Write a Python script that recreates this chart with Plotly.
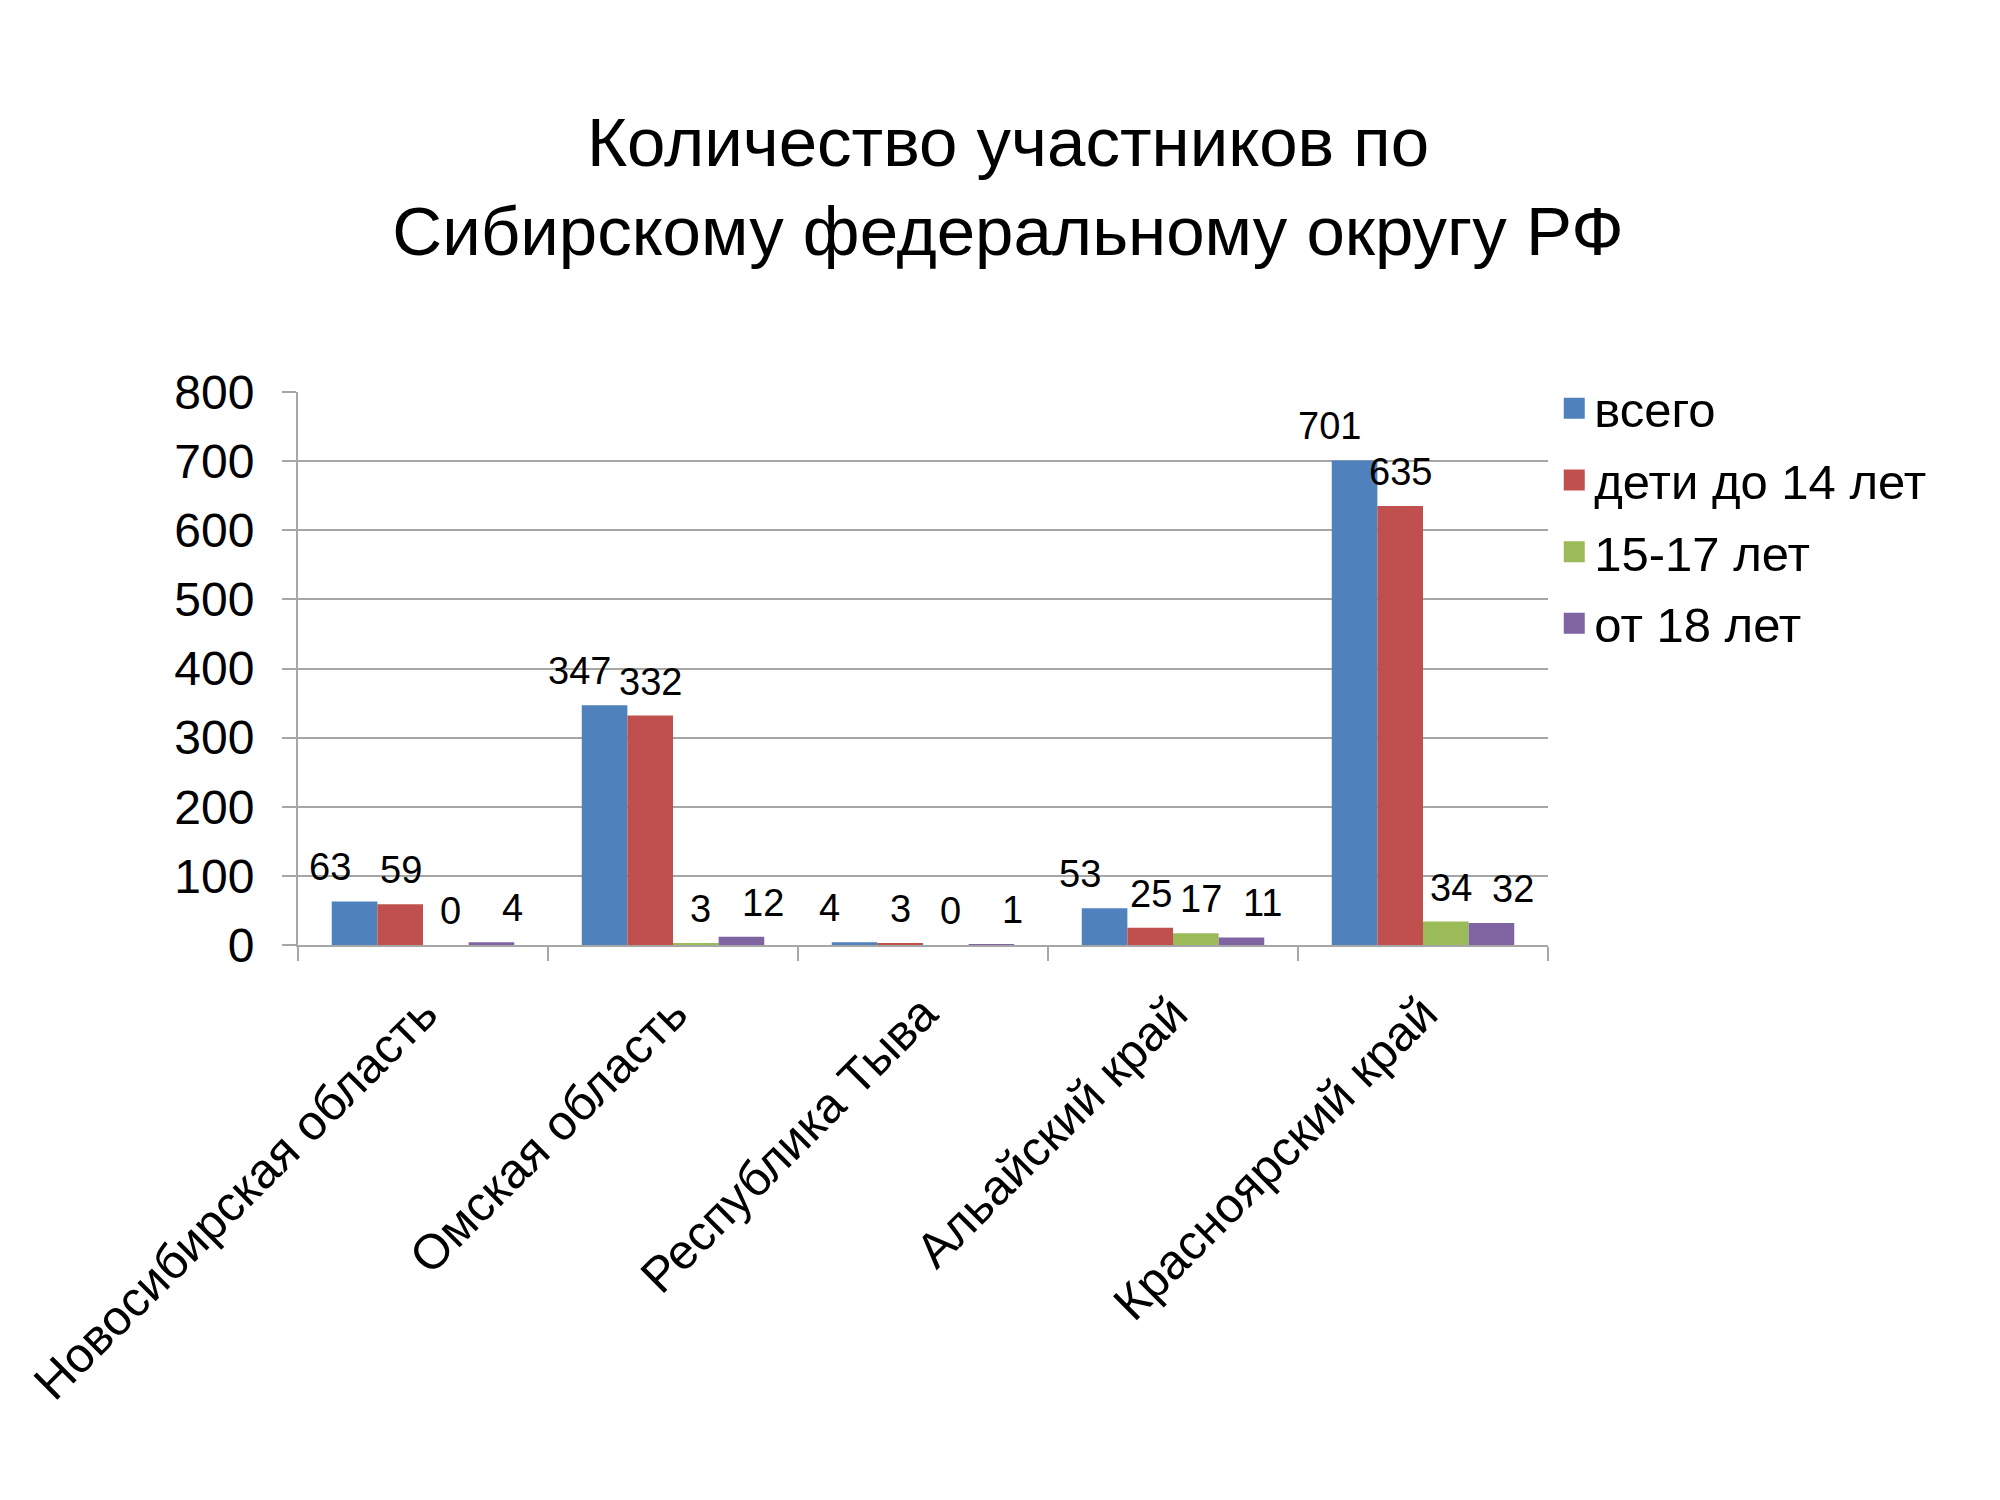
import plotly.graph_objects as go

# данные по регионам
regions = ["Новосибирская область", "Омская область", "Республика Тыва",
           "Альайский край", "Красноярский край"]
vsego = [63, 347, 4, 53, 701]
deti_do_14 = [59, 332, 3, 25, 635]
ot_15_do_17 = [0, 3, 0, 17, 34]
ot_18 = [4, 12, 1, 11, 32]

series_names = ["всего", "дети до 14 лет", "15-17 лет", "от 18 лет"]
series_vals = [vsego, deti_do_14, ot_15_do_17, ot_18]
colors = ["#4F81BD", "#C0504D", "#9BBB59", "#8064A2"]

FONT = "Liberation Sans, Arial, sans-serif"
GRID = "#A6A6A6"
BAR_W = 45  # px, ширина одного столбика
label_nudge = [-26, 0, 5, 22]  # сдвиг подписей по сериям

fig = go.Figure()
for i, (name, vals) in enumerate(zip(series_names, series_vals)):
    fig.add_trace(go.Bar(x=regions, y=vals, name=name, showlegend=False,
                         marker=dict(color=colors[i], line=dict(width=0))))
    # только для легенды - крупные квадратные маркеры
    fig.add_trace(go.Scatter(x=[regions[0]], y=[None], name=name, legendgroup=name,
                             mode="markers",
                             marker=dict(symbol="square", size=16, color=colors[i],
                                         line=dict(width=5, color=colors[i]))))
    # подписи значений над столбиками
    for reg, v in zip(regions, vals):
        fig.add_annotation(x=reg, y=v, text=str(v), showarrow=False,
                           xshift=(i - 1.5) * BAR_W + label_nudge[i], yshift=34,
                           font=dict(family=FONT, size=38, color="black"))

fig.update_layout(
    width=2000, height=1500,
    margin=dict(l=290, r=460, t=384, b=563),
    paper_bgcolor="white", plot_bgcolor="white",
    barmode="group", bargap=0.27, bargroupgap=0,
    font=dict(family=FONT, color="black"),
    title=dict(text="Количество участников по<br>Сибирскому федеральному округу РФ",
               x=0.5, xanchor="center", y=0.895, yanchor="top",
               font=dict(family=FONT, size=69, color="black")),
    legend=dict(x=1.005, xanchor="left", y=1.04, yanchor="top",
                font=dict(family=FONT, size=49), tracegroupgap=5,
                bgcolor="rgba(0,0,0,0)"),
    xaxis=dict(showline=True, linecolor=GRID, linewidth=2,
               ticks="outside", tickson="boundaries", ticklen=14,
               tickcolor=GRID, tickwidth=2, tickangle=-45,
               ticklabelstandoff=18,
               tickfont=dict(family=FONT, size=49)),
    yaxis=dict(range=[0, 800], dtick=100, showgrid=True, gridcolor=GRID,
               gridwidth=2, zeroline=False, showline=True, linecolor=GRID,
               linewidth=2, ticks="outside", ticklen=14, tickcolor=GRID,
               tickwidth=2, ticklabelstandoff=18,
               tickfont=dict(family=FONT, size=48)),
)

fig.write_html("out.html")
